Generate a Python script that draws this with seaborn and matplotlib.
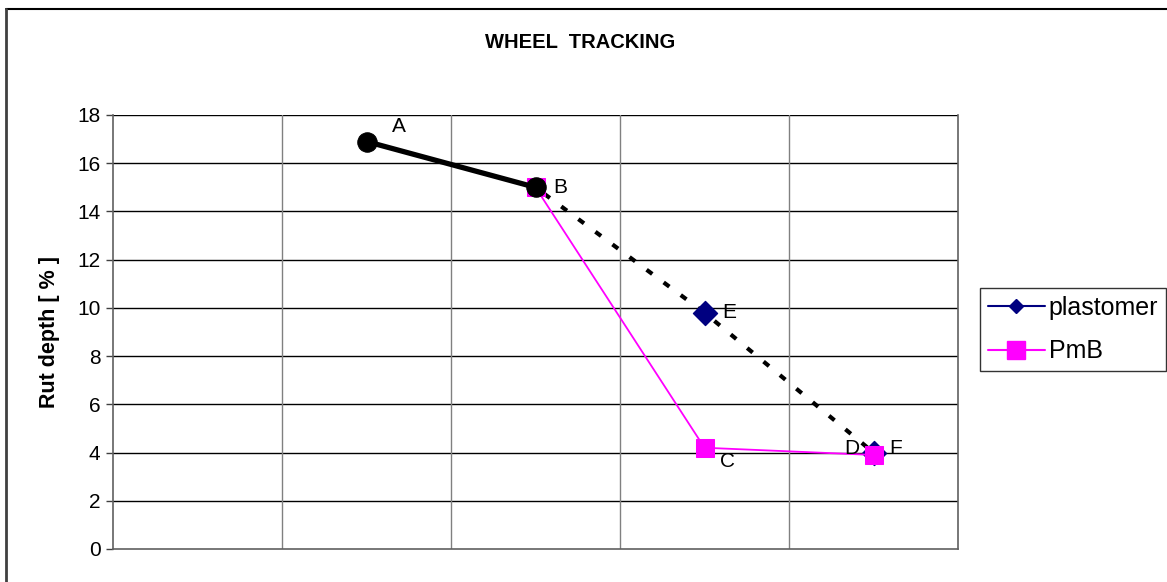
import matplotlib
matplotlib.use("Agg")
import matplotlib.pyplot as plt
from matplotlib.lines import Line2D
import seaborn as sns
import pandas as pd

sns.set_theme(style="white")
plt.rcParams["font.family"] = ["Liberation Sans", "DejaVu Sans"]
plt.rcParams.update({"text.color": "black", "axes.labelcolor": "black",
                     "xtick.color": "black", "ytick.color": "black"})

# Category slots along the x axis (five columns, unlabeled)
n_slots = 5

# Reference mix A -> B (thick black)
base_x = [1, 2]
base_y = [16.9, 15.0]

# Plastomer modification: B -> E -> F (dashed trend, diamond markers at E, F)
trend_x = [2, 3, 4]
trend_y = [15.0, 9.8, 4.0]
plast_x = [3, 4]
plast_y = [9.8, 4.0]

# PmB: B -> C -> D
pmb_x = [2, 3, 4]
pmb_y = [15.0, 4.2, 3.9]

point_labels = ["A", "B", "E", "F", "C", "D"]
label_x = [1, 2, 3, 4, 3, 4]
label_y = [16.9, 15.0, 9.8, 4.0, 4.2, 3.9]

fig = plt.figure(figsize=(11.67, 5.82), dpi=100)
ax = fig.add_axes([113 / 1167, 1 - 549 / 582, (958 - 113) / 1167, (549 - 115) / 582])

# Outer chart frame (top and left edges visible)
fig.add_artist(Line2D([6 / 1167, 1.0], [1 - 9 / 582, 1 - 9 / 582], color="black", lw=1.5,
                      transform=fig.transFigure))
fig.add_artist(Line2D([6 / 1167, 6 / 1167], [0.0, 1 - 9 / 582], color="#404040", lw=2,
                      transform=fig.transFigure))

base_df = pd.DataFrame({"x": base_x, "y": base_y})
trend_df = pd.DataFrame({"x": trend_x, "y": trend_y})
plast_df = pd.DataFrame({"x": plast_x, "y": plast_y})
pmb_df = pd.DataFrame({"x": pmb_x, "y": pmb_y})

sns.lineplot(data=base_df, x="x", y="y", ax=ax, color="black", lw=3.8,
             marker="o", markersize=14, markeredgecolor="black", zorder=7, legend=False)
sns.lineplot(data=trend_df, x="x", y="y", ax=ax, color="black", lw=3.0,
             dashes=False, zorder=3, legend=False)
ax.lines[-1].set_linestyle((2.5, (1.7, 3.4)))
sns.lineplot(data=pmb_df, x="x", y="y", ax=ax, color="#FF00FF", lw=1.3,
             marker="s", markersize=13, markeredgecolor="#FF00FF", zorder=6, legend=False)
sns.scatterplot(data=plast_df, x="x", y="y", ax=ax, color="#000080", marker="D",
                s=150, edgecolor="#000080", zorder=4, legend=False)

offsets = {"A": (18, 11), "B": (13, 0), "E": (13, 0), "F": (11, 3),
           "C": (11, -10), "D": (-21, 5)}
for t, px, py in zip(point_labels, label_x, label_y):
    dx, dy = offsets[t]
    ax.annotate(t, (px, py), xytext=(dx, dy), textcoords="offset points",
                ha="left", va="center", fontsize=15, color="black", zorder=8)

ax.set_xlim(-0.5, n_slots - 0.5)
ax.set_ylim(0, 18)
ax.set_yticks(range(0, 19, 2))
ax.set_xticks([i + 0.5 for i in range(-1, n_slots)])
ax.set_xticklabels([])
ax.tick_params(axis="x", length=0)
ax.tick_params(axis="y", direction="out", length=5, width=1, color="#404040",
               labelcolor="black", labelsize=15, pad=4, left=True)
ax.grid(False)
for yv in range(2, 19, 2):
    ax.axhline(yv, color="black", lw=1, zorder=1)
for xv in [0.5, 1.5, 2.5, 3.5]:
    ax.axvline(xv, color="#808080", lw=1, zorder=1)
for side in ["left", "bottom", "right"]:
    ax.spines[side].set_color("#606060")
    ax.spines[side].set_linewidth(1.2)
ax.spines["top"].set_visible(False)

ax.set_xlabel("")
ax.set_ylabel("Rut depth [ % ]", fontsize=15.5, fontweight="bold", labelpad=12,
              color="black")
fig.text(580 / 1167, 1 - 42 / 582, "WHEEL  TRACKING", ha="center", va="center",
         fontsize=14.5, fontweight="bold", color="black")

handles = [
    Line2D([], [], color="#000080", lw=1.5, marker="D", markersize=7),
    Line2D([], [], color="#FF00FF", lw=1.5, marker="s", markersize=13),
]
leg = fig.legend(handles, ["plastomer", "PmB"], loc="upper left",
                 bbox_to_anchor=(980 / 1167, 1 - 288 / 582), fontsize=18,
                 frameon=True, fancybox=False, edgecolor="black", handlelength=2.3,
                 handletextpad=0.15, borderpad=0.3, labelspacing=0.8, borderaxespad=0)
leg.get_frame().set_linewidth(1)
for txt in leg.get_texts():
    txt.set_color("black")

fig.savefig("out.png", dpi=100, facecolor="white")
